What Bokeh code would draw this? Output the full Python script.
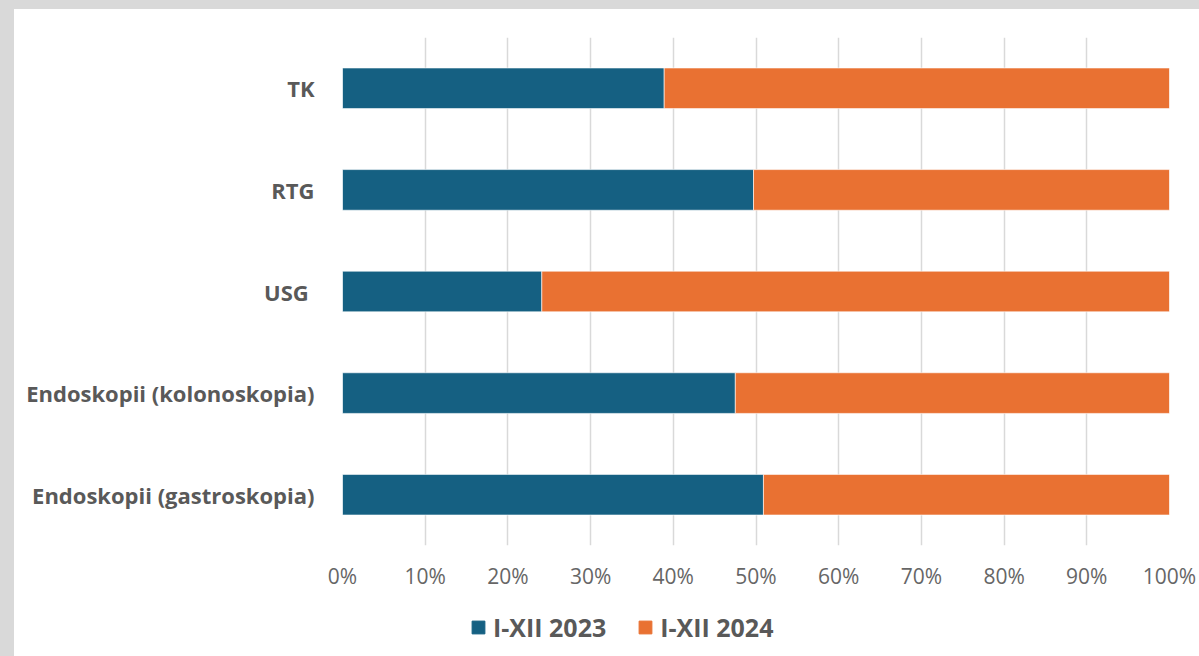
from bokeh.plotting import figure
from bokeh.layouts import column
from bokeh.models import (ColumnDataSource, FactorRange, Range1d, FixedTicker,
                          NumeralTickFormatter, Legend, LegendItem, GlobalInlineStyleSheet)
from bokeh.embed import file_html
from bokeh.resources import INLINE

categories = ["TK", "RTG", "USG ", "Endoskopii (kolonoskopia)", "Endoskopii (gastroskopia)"]
share_2023 = [38.9, 49.7, 24.1, 47.5, 50.9]
share_2024 = [61.1, 50.3, 75.9, 52.5, 49.1]
series = ["I-XII 2023", "I-XII 2024"]
colors = ["#156082", "#E97132"]
ticks = [0.0, 0.1, 0.2, 0.3, 0.4, 0.5, 0.6, 0.7, 0.8, 0.9, 1.0]

src = ColumnDataSource(dict(
    cat=categories,
    s2023=[v / 100 for v in share_2023],
    s2024=[v / 100 for v in share_2024],
))

p = figure(width=1195, height=591, output_backend="svg", toolbar_location=None,
           y_range=FactorRange(*list(reversed(categories))),
           x_range=Range1d(0, 1),
           min_border_left=328, min_border_right=40, min_border_top=28, min_border_bottom=55)
p.stylesheets.append(GlobalInlineStyleSheet(css="html,body{margin:0;padding:0;background:#d9d9d9;overflow:hidden;} body{padding:9px 0 0 14px;}"))

renderers = p.hbar_stack(["s2023", "s2024"], y="cat", height=0.4, source=src,
                         color=colors, line_color="#ffffff", line_alpha=0.6, line_width=1)

p.outline_line_color = None
p.background_fill_color = "white"
p.border_fill_color = "white"

p.ygrid.grid_line_color = None
p.xgrid.ticker = FixedTicker(ticks=ticks)
p.xgrid.grid_line_color = "#d9d9d9"
p.xgrid.grid_line_width = 1.5

p.xaxis.ticker = FixedTicker(ticks=ticks)
p.xaxis.formatter = NumeralTickFormatter(format="0%")
p.xaxis.axis_line_color = None
p.xaxis.major_tick_line_color = None
p.xaxis.minor_tick_line_color = None
p.xaxis.major_label_text_font = "Open Sans"
p.xaxis.major_label_text_font_size = "21px"
p.xaxis.major_label_text_color = "#666666"
p.xaxis.major_label_standoff = 10

p.yaxis.axis_line_color = None
p.yaxis.major_tick_line_color = None
p.yaxis.minor_tick_line_color = None
p.yaxis.major_label_text_font = "Open Sans"
p.yaxis.major_label_text_font_style = "bold"
p.yaxis.major_label_text_font_size = "22px"
p.yaxis.major_label_text_color = "#595959"
p.yaxis.major_label_standoff = 22

# legend strip below the chart
p2 = figure(width=1195, height=56, output_backend="svg", toolbar_location=None,
            x_axis_type=None, y_axis_type=None, x_range=Range1d(0, 1), y_range=Range1d(0, 1),
            min_border=0)
p2.outline_line_color = None
p2.background_fill_alpha = 0
p2.border_fill_alpha = 0
p2.grid.grid_line_color = None
keys = [p2.hbar(y=[-5], left=[0], right=[0], height=0.4, color=c) for c in colors]

legend = Legend(items=[LegendItem(label=series[i], renderers=[keys[i]]) for i in range(2)],
                orientation="horizontal", location=(128, 12),
                glyph_width=16, glyph_height=16, label_standoff=7, spacing=31,
                label_text_font="Open Sans", label_text_font_style="bold",
                label_text_font_size="25px", label_text_color="#595959",
                background_fill_alpha=0, border_line_color=None, padding=0, margin=0)
p2.add_layout(legend, "center")

layout = column(p, p2, spacing=0)
layout.styles = {"background-color": "white"}
open("out.html", "w").write(file_html(layout, INLINE))
